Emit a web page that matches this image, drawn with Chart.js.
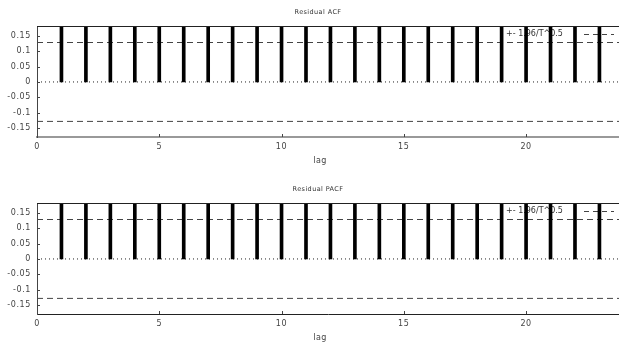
<!DOCTYPE html>
<html>
<head>
<meta charset="utf-8">
<script src="https://cdn.jsdelivr.net/npm/chart.js@4"></script>
<style>
  html, body { margin: 0; padding: 0; background: #fff; }
  #wrap { position: relative; width: 619px; height: 344px; overflow: hidden; }
  canvas { position: absolute; left: 0; }
</style>
</head>
<body>
<div id="wrap">
  <canvas id="acf" width="619" height="167" style="top:0"></canvas>
  <canvas id="pacf" width="619" height="167" style="top:177px"></canvas>
</div>
<script>
// lags and values (bars run past the top of the plot, so these are estimates)
var lags = [1, 2, 3, 4, 5, 6, 7, 8, 9, 10, 11, 12, 13, 14, 15, 16, 17, 18, 19, 20, 21, 22, 23];
var acfValues = [0.97, 0.95, 0.93, 0.91, 0.89, 0.87, 0.85, 0.83, 0.81, 0.79, 0.77, 0.75,
                 0.73, 0.71, 0.69, 0.67, 0.65, 0.63, 0.61, 0.59, 0.57, 0.55, 0.53];
var pacfValues = [0.97, 0.42, 0.38, 0.35, 0.33, 0.31, 0.3, 0.29, 0.28, 0.27, 0.26, 0.26,
                  0.25, 0.25, 0.24, 0.24, 0.23, 0.23, 0.22, 0.22, 0.21, 0.21, 0.2];
var band = 0.129; // +- 1.96/T^0.5
var xTicks = [0, 5, 10, 15, 20];
var yTicks = [0.15, 0.1, 0.05, 0, -0.05, -0.1, -0.15];
var xMax = 23.8;

var font = "'DejaVu Sans', Verdana, sans-serif";

function makeChart(id, title, values, bottomColor, bottomWidth) {
  var decor = {
    id: "decor",
    beforeDraw: function (chart) {
      // gnuplot-ish wide tick labels
      chart.ctx.letterSpacing = "0.6px";
    },
    beforeDatasetsDraw: function (chart) {
      var ctx = chart.ctx;
      ctx.save();
      ctx.letterSpacing = "0px";
      ctx.fillStyle = "#333";
      ctx.font = "8px " + font;
      ctx.textBaseline = "middle";
      ctx.fillText("+- 1.96/T^0.5", 506, 34);
      ctx.strokeStyle = "#444";
      ctx.lineWidth = 1;
      ctx.setLineDash([5, 4]);
      ctx.beginPath();
      ctx.moveTo(584, 34.5);
      ctx.lineTo(614, 34.5);
      ctx.stroke();
      ctx.restore();
    },
    afterDraw: function (chart) {
      var ctx = chart.ctx;
      var a = chart.chartArea;
      var xs = chart.scales.x, ys = chart.scales.y;
      ctx.save();
      ctx.letterSpacing = "0.4px";
      // title
      ctx.fillStyle = "#333";
      ctx.font = "6.5px " + font;
      ctx.textAlign = "center";
      ctx.textBaseline = "middle";
      ctx.fillText(title, 318, 12);
      // axis title
      ctx.fillStyle = "#444";
      ctx.font = "8px " + font;
      ctx.fillText("lag", 320, 161);
      // top border
      ctx.strokeStyle = "#222";
      ctx.lineWidth = 1;
      ctx.beginPath();
      ctx.moveTo(a.left, a.top + 0.5);
      ctx.lineTo(chart.width, a.top + 0.5);
      ctx.stroke();
      // inner ticks
      ctx.strokeStyle = "#444";
      xTicks.forEach(function (v) {
        var px = Math.round(xs.getPixelForValue(v)) + 0.5;
        ctx.beginPath();
        ctx.moveTo(px, a.bottom);
        ctx.lineTo(px, a.bottom - 3);
        ctx.stroke();
      });
      yTicks.forEach(function (v) {
        var py = Math.round(ys.getPixelForValue(v)) + 0.5;
        ctx.beginPath();
        ctx.moveTo(a.left, py);
        ctx.lineTo(a.left + 3, py);
        ctx.stroke();
      });
      ctx.restore();
    }
  };

  return new Chart(document.getElementById(id), {
    type: "bar",
    data: {
      datasets: [
        {
          type: "bar",
          data: lags.map(function (l, i) { return { x: l, y: values[i] }; }),
          backgroundColor: "#000",
          barThickness: 3,
          order: 1
        },
        {
          type: "line",
          data: [{ x: 0, y: 0 }, { x: xMax, y: 0 }],
          borderColor: "#222",
          borderWidth: 1,
          borderDash: [1, 3],
          pointRadius: 0,
          order: 3
        },
        {
          type: "line",
          data: [{ x: 0, y: band }, { x: xMax, y: band }],
          borderColor: "#444",
          borderWidth: 1,
          borderDash: [6, 4],
          pointRadius: 0,
          order: 2
        },
        {
          type: "line",
          data: [{ x: 0, y: -band }, { x: xMax, y: -band }],
          borderColor: "#444",
          borderWidth: 1,
          borderDash: [6, 4],
          pointRadius: 0,
          order: 2
        }
      ]
    },
    options: {
      responsive: false,
      animation: false,
      events: [],
      layout: { padding: { top: 26, right: 0, bottom: 0, left: 0 } },
      plugins: { legend: { display: false }, tooltip: { enabled: false } },
      scales: {
        x: {
          type: "linear",
          offset: false,
          min: 0,
          max: xMax,
          grid: { display: false, drawTicks: false, offset: false },
          border: { color: bottomColor, width: bottomWidth },
          afterBuildTicks: function (s) { s.ticks = xTicks.map(function (v) { return { value: v }; }); },
          afterFit: function (s) { s.height = 30; },
          ticks: { color: "#444", font: { family: font, size: 8 }, padding: 5, maxRotation: 0 }
        },
        y: {
          min: -0.18,
          max: 0.183,
          grid: { display: false, drawTicks: false },
          border: { color: "#444", width: 1 },
          afterBuildTicks: function (s) { s.ticks = yTicks.map(function (v) { return { value: v }; }); },
          afterFit: function (s) { s.width = 37; },
          ticks: {
            color: "#444", font: { family: font, size: 8 }, padding: 6,
            callback: function (v) { return String(Number(v.toFixed(2))); }
          }
        }
      }
    },
    plugins: [decor]
  });
}

makeChart("acf", "Residual ACF", acfValues, "#999", 2);
makeChart("pacf", "Residual PACF", pacfValues, "#222", 1);
</script>
</body>
</html>
